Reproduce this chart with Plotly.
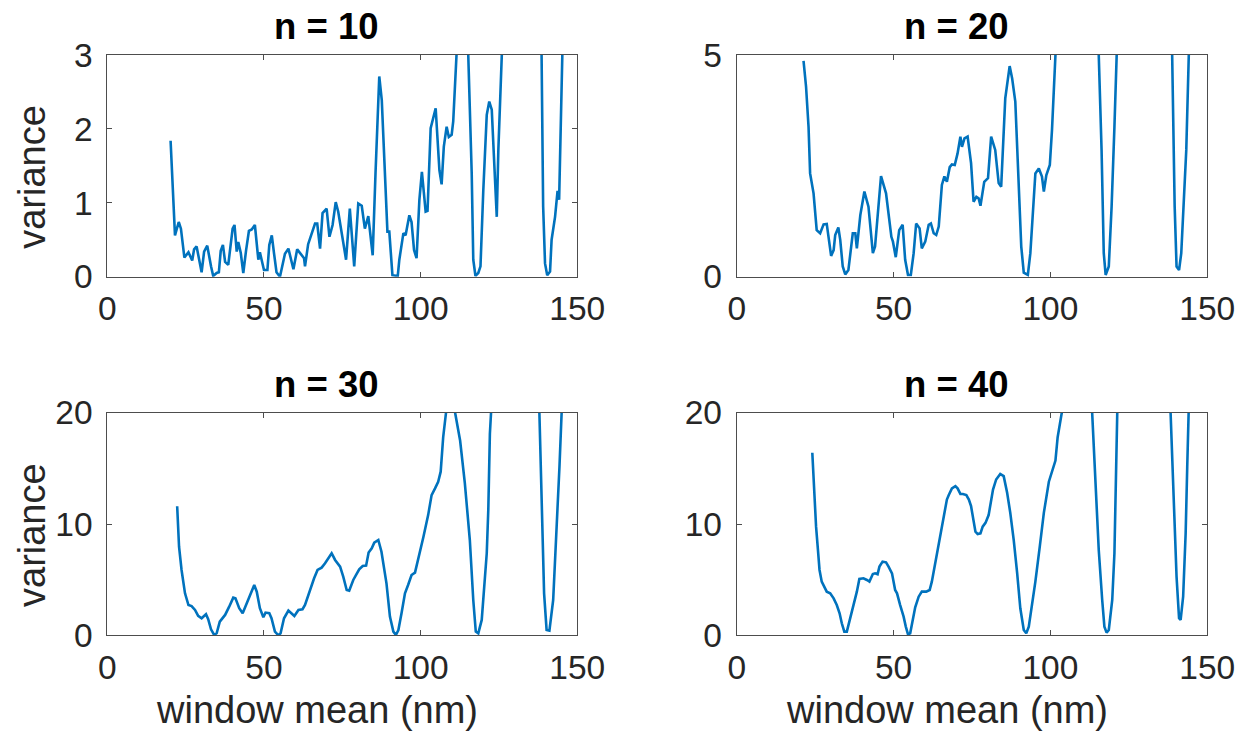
import plotly.graph_objects as go

# ---------------- data ----------------
x_n10 = [20.2, 20.9, 21.6, 22.8, 23.5, 24.6, 25.9, 27.1, 27.7, 28.5, 30.1, 30.9, 31.9, 33.1, 33.8,
         34.9, 35.6, 36.2, 36.9, 37.6, 38.6, 40.0, 40.6, 41.3, 41.8, 42.6, 43.4, 44.3, 45.2, 46.1,
         47.1, 48.2, 48.7, 50.0, 51.1, 51.7, 52.5, 53.2, 54.0, 55.1, 56.7, 57.8, 58.5, 59.4, 60.6,
         61.5, 62.8, 63.1, 64.1, 66.3, 67.0, 67.9, 68.7, 70.0, 70.9, 71.9, 72.9, 73.7, 75.1, 76.2,
         77.4, 78.2, 78.8, 80.1, 81.2, 82.2, 83.3, 83.8, 84.7, 85.6, 86.8, 87.6, 88.6, 89.4, 90.0,
         91.0, 92.7, 93.2, 94.5, 95.2, 96.4, 97.1, 97.9, 98.7, 99.6, 100.4, 101.6, 102.2, 103.2,
         104.8, 106.0, 106.7, 107.4, 108.3, 109.0, 109.9, 110.4, 111.3, 113.2, 115.2, 116.3, 116.8,
         117.5, 118.4, 119.1, 120.0, 121.1, 121.9, 122.7, 123.4, 124.3, 124.8, 125.3, 131.9, 138.6,
         139.1, 139.7, 140.4, 141.3, 141.8, 142.9, 143.7, 144.2, 144.7, 145.3, 146.0]
y_n10 = [1.84, 1.26, 0.56, 0.74, 0.65, 0.26, 0.33, 0.22, 0.37, 0.41, 0.06, 0.34, 0.42, 0.14, 0.01,
         0.05, 0.06, 0.35, 0.43, 0.20, 0.16, 0.65, 0.70, 0.34, 0.47, 0.32, 0.05, 0.36, 0.62, 0.64,
         0.70, 0.23, 0.33, 0.09, 0.09, 0.43, 0.56, 0.32, 0.06, 0.00, 0.31, 0.38, 0.27, 0.10, 0.37,
         0.32, 0.25, 0.14, 0.44, 0.72, 0.72, 0.38, 0.86, 0.92, 0.54, 0.70, 1.01, 0.88, 0.54, 0.23,
         0.92, 0.50, 0.14, 0.99, 0.96, 0.65, 0.82, 0.63, 0.29, 1.40, 2.71, 2.39, 1.40, 0.61, 0.61,
         0.02, 0.01, 0.23, 0.59, 0.56, 0.83, 0.74, 0.36, 0.25, 1.04, 1.42, 0.88, 0.89, 2.01,
         2.28, 1.44, 1.25, 1.76, 2.03, 1.89, 1.92, 2.10, 3.00, 4.50, 3.00, 1.40, 0.23,
         0.01, 0.05, 0.14, 1.17, 2.19, 2.37, 2.26, 1.62, 0.81, 1.71, 3.00, 10.0, 3.00,
         0.95, 0.18, 0.02, 0.07, 0.50, 0.81, 1.16, 1.04, 2.07, 3.00, 4.50]

x_n20 = [21.3, 22.1, 22.9, 23.4, 24.5, 25.5, 26.6, 27.7, 28.7, 29.4, 30.1, 30.9, 31.4, 32.4, 33.0,
         33.8, 34.6, 35.6, 37.0, 37.8, 38.3, 39.4, 40.7, 42.0, 43.4, 44.1, 46.0, 47.6, 49.3, 49.8,
         50.7, 51.8, 52.9, 53.7, 54.6, 55.5, 56.4, 57.2, 58.3, 59.0, 60.1, 61.2, 61.9, 62.8, 63.6,
         64.4, 65.4, 66.2, 67.0, 67.9, 68.6, 69.5, 70.4, 71.3, 71.8, 72.6, 73.6, 74.7, 75.5, 76.4,
         77.1, 77.7, 78.9, 80.1, 81.1, 82.4, 83.5, 84.3, 85.1, 85.6, 87.0, 87.8, 88.8, 89.9, 90.7,
         91.5, 92.8, 93.6, 95.2, 96.3, 97.3, 97.9, 98.7, 99.8, 100.5, 101.6, 108.5, 115.4, 116.3,
         117.0, 117.6, 118.6, 119.5, 120.4, 121.5, 130.0, 138.8, 139.6, 140.2, 141.0, 141.7, 142.6,
         143.3, 144.1, 145.0]
y_n20 = [4.87, 4.29, 3.38, 2.33, 1.88, 1.05, 0.98, 1.18, 1.19, 0.83, 0.47, 0.60, 0.94, 1.11, 0.83,
         0.23, 0.05, 0.15, 0.98, 0.98, 0.64, 1.39, 1.92, 1.58, 0.53, 0.68, 2.27, 1.88, 0.90, 0.79,
         0.44, 1.05, 1.17, 0.38, 0.04, 0.04, 0.53, 1.20, 1.09, 0.64, 0.79, 1.17, 1.20, 0.98, 0.94,
         1.13, 2.07, 2.26, 2.14, 2.47, 2.53, 2.52, 2.78, 3.16, 2.93, 3.12, 3.16, 2.56, 1.69, 1.80,
         1.77, 1.60, 2.14, 2.22, 3.16, 2.86, 2.11, 2.03, 3.38, 4.02, 4.75, 4.47, 3.95, 1.95, 0.68,
         0.09, 0.04, 0.53, 2.33, 2.44, 2.26, 1.92, 2.29, 2.52, 3.31, 5.00, 12.0, 5.00, 2.86,
         0.53, 0.04, 0.23, 1.58, 3.38, 5.00, 25.0, 5.00, 1.58, 0.23, 0.15, 0.53, 1.80,
         2.86, 5.00, 8.00]

x_n30 = [22.3, 22.9, 23.7, 24.8, 25.9, 26.9, 28.0, 29.0, 30.1, 31.5, 32.2, 33.1, 34.1, 34.9, 35.9,
         37.6, 38.9, 40.2, 40.9, 42.1, 43.2, 44.5, 45.7, 46.9, 47.7, 48.7, 49.8, 50.5, 51.7, 52.4,
         53.5, 54.6, 55.3, 56.4, 57.8, 58.8, 59.7, 61.0, 62.3, 63.1, 64.1, 65.0, 66.0, 67.1, 68.4,
         69.5, 70.5, 71.6, 72.7, 74.3, 75.3, 76.4, 77.2, 78.5, 79.4, 80.4, 81.5, 82.6, 83.4, 84.4,
         85.2, 86.5, 87.5, 89.1, 90.2, 91.3, 92.1, 92.9, 93.9, 95.0, 96.0, 97.1, 98.2, 99.3, 100.9,
         102.4, 103.5, 104.6, 105.6, 106.4, 107.2, 108.1, 109.5, 111.0, 112.6, 114.1, 115.7, 116.8,
         117.6, 118.4, 119.5, 121.1, 121.6, 122.1, 122.7, 130.3, 137.9, 138.6, 139.4, 140.2, 141.1,
         142.3, 143.4, 144.3, 145.0, 145.5]
y_n30 = [11.6, 7.96, 5.87, 3.77, 2.72, 2.63, 2.28, 1.74, 1.53, 1.89, 1.44, 0.54, 0.03, 0.18, 1.23,
         1.83, 2.57, 3.38, 3.32, 2.43, 1.98, 2.87, 3.77, 4.52, 3.92, 2.43, 1.62, 2.04, 1.98, 1.53,
         0.33, 0.00, 0.18, 1.53, 2.22, 1.98, 1.74, 2.28, 2.34, 2.72, 3.62, 4.22, 5.12, 5.87, 6.08,
         6.47, 6.92, 7.37, 6.77, 6.17, 5.27, 4.07, 4.01, 4.97, 5.42, 5.93, 6.23, 6.26, 7.43, 7.81,
         8.32, 8.56, 7.51, 4.67, 1.68, 0.33, 0.03, 0.48, 1.98, 3.77, 4.52, 5.42, 5.63, 7.07, 8.86,
         10.8, 12.6, 13.2, 13.8, 14.7, 17.8, 20.0, 21.0, 20.0, 17.5, 13.7, 8.56, 3.17,
         0.33, 0.18, 1.38, 7.37, 11.3, 18.1, 20.0, 60.0, 20.0, 12.2, 3.77, 0.48, 0.42,
         3.17, 9.16, 15.1, 20.0, 25.0]

x_n40 = [24.1, 24.7, 25.3, 25.9, 26.4, 27.1, 28.2, 28.7, 29.8, 30.9, 31.9, 32.8, 33.5, 34.3, 35.1,
         36.2, 37.2, 38.3, 39.1, 40.4, 41.5, 42.3, 43.4, 44.1, 44.9, 45.5, 46.5, 47.6, 48.4, 49.5,
         50.5, 51.1, 52.1, 53.2, 53.9, 54.6, 55.3, 56.1, 56.9, 58.0, 59.0, 60.4, 61.5, 62.2, 63.3,
         64.4, 65.4, 66.2, 67.0, 67.6, 68.6, 69.7, 70.4, 71.3, 72.1, 73.2, 74.0, 74.7, 75.3, 76.1,
         76.8, 77.7, 78.4, 79.3, 80.3, 80.9, 81.7, 82.7, 84.0, 85.1, 86.2, 87.2, 88.3, 89.4, 90.4,
         91.5, 92.3, 93.1, 94.1, 95.2, 96.6, 97.9, 99.5, 100.5, 101.6, 102.3, 103.4, 108.4, 113.3,
         114.4, 115.4, 116.5, 117.2, 117.9, 118.6, 119.7, 120.4, 121.3, 129.8, 138.3, 139.4, 140.2,
         141.0, 141.5, 142.3, 143.1, 143.6, 144.1, 144.6]
y_n40 = [16.4, 12.5, 9.76, 7.66, 5.87, 4.82, 4.22, 3.92, 3.77, 3.32, 2.72, 1.98, 1.08, 0.33, 0.33,
         1.53, 2.72, 3.92, 5.06, 5.12, 4.97, 4.82, 5.51, 5.57, 5.48, 6.17, 6.62, 6.56, 6.17, 5.57,
         4.07, 3.77, 2.72, 1.68, 0.78, 0.09, 0.18, 1.38, 2.51, 3.47, 3.92, 3.92, 4.07, 4.82, 6.47,
         7.96, 9.61, 10.8, 12.2, 12.6, 13.2, 13.4, 13.2, 12.7, 12.7, 12.6, 12.2, 11.6, 10.7, 9.31,
         9.10, 9.16, 9.76, 10.1, 10.8, 11.9, 13.1, 14.0, 14.5, 14.3, 12.8, 11.0, 8.56, 5.57, 2.43,
         0.48, 0.18, 0.78, 2.57, 4.82, 7.96, 11.0, 13.8, 14.7, 15.7, 17.8, 20.0, 28.0, 20.0,
         13.7, 7.66, 3.17, 0.78, 0.24, 0.48, 3.17, 7.37, 20.0, 60.0, 20.0, 12.2, 5.27,
         1.53, 1.38, 3.47, 9.16, 15.1, 20.0, 26.0]

titles = ["n = 10", "n = 20", "n = 30", "n = 40"]
x_ticks = [0, 50, 100, 150]
y_ticks = [[0, 1, 2, 3], [0, 5], [0, 10, 20], [0, 10, 20]]
y_ranges = [[0, 3], [0, 5], [0, 20], [0, 20]]
x_label = "window mean (nm)"
y_label = "variance"

series = [(x_n10, y_n10), (x_n20, y_n20), (x_n30, y_n30), (x_n40, y_n40)]

# ---------------- layout geometry ----------------
W, H = 1243, 733
x_px = [[107.3, 577.3], [736.7, 1207.3]]
y_px = [[55.0, 276.7], [412.7, 635.3]]
x_doms = [[a / W, b / W] for a, b in x_px]
y_doms = [[1 - b / H, 1 - a / H] for a, b in y_px]

FONT = "Liberation Sans, Arial, Helvetica, sans-serif"
TICK_SIZE = 33.5
LABEL_SIZE = 38
TITLE_SIZE = 36.5
LINE_COLOR = "#0072BD"
AXIS_COLOR = "#262626"

fig = go.Figure()
annotations = []
for i, (xs, ys) in enumerate(series):
    r, c = divmod(i, 2)
    suffix = "" if i == 0 else str(i + 1)
    fig.add_trace(go.Scatter(x=xs, y=ys, mode="lines",
                             line=dict(color=LINE_COLOR, width=2.6),
                             xaxis="x" + suffix, yaxis="y" + suffix,
                             showlegend=False, hoverinfo="skip"))
    common = dict(showline=True, linecolor="#4d4d4d", linewidth=1, mirror="ticks",
                  ticks="inside", ticklen=5, tickwidth=1, tickcolor="#4d4d4d",
                  showgrid=False, zeroline=False, automargin=False,
                  tickfont=dict(family=FONT, size=TICK_SIZE, color=AXIS_COLOR))
    fig.layout["xaxis" + suffix] = dict(domain=x_doms[c], range=[0, 150],
                                        tickvals=x_ticks, anchor="y" + suffix,
                                        ticklabelstandoff=2, **common)
    fig.layout["yaxis" + suffix] = dict(domain=y_doms[r], range=y_ranges[i],
                                        tickvals=y_ticks[i], anchor="x" + suffix,
                                        ticklabelstandoff=7, **common)
    xc_px = (x_px[c][0] + x_px[c][1]) / 2
    yc_px = (y_px[r][0] + y_px[r][1]) / 2
    annotations.append(dict(text="<b>" + titles[i] + "</b>", xref="paper", yref="paper",
                            x=(xc_px - 16) / W, y=1 - (y_px[r][0] - 28) / H,
                            xanchor="center", yanchor="middle", showarrow=False,
                            font=dict(family=FONT, size=TITLE_SIZE, color="black")))
    if c == 0:
        annotations.append(dict(text=y_label, xref="paper", yref="paper",
                                x=32 / W, y=1 - (yc_px + 11) / H,
                                xanchor="center", yanchor="middle",
                                textangle=-90, showarrow=False,
                                font=dict(family=FONT, size=LABEL_SIZE, color=AXIS_COLOR)))
    if r == 1:
        annotations.append(dict(text=x_label, xref="paper", yref="paper",
                                x=(xc_px - 25) / W, y=1 - 709.5 / H,
                                xanchor="center", yanchor="middle",
                                showarrow=False,
                                font=dict(family=FONT, size=LABEL_SIZE, color=AXIS_COLOR)))

fig.update_layout(width=W, height=H,
                  margin=dict(l=0, r=0, t=0, b=0, autoexpand=False),
                  paper_bgcolor="white", plot_bgcolor="white",
                  annotations=annotations)
fig.write_html("out.html")
